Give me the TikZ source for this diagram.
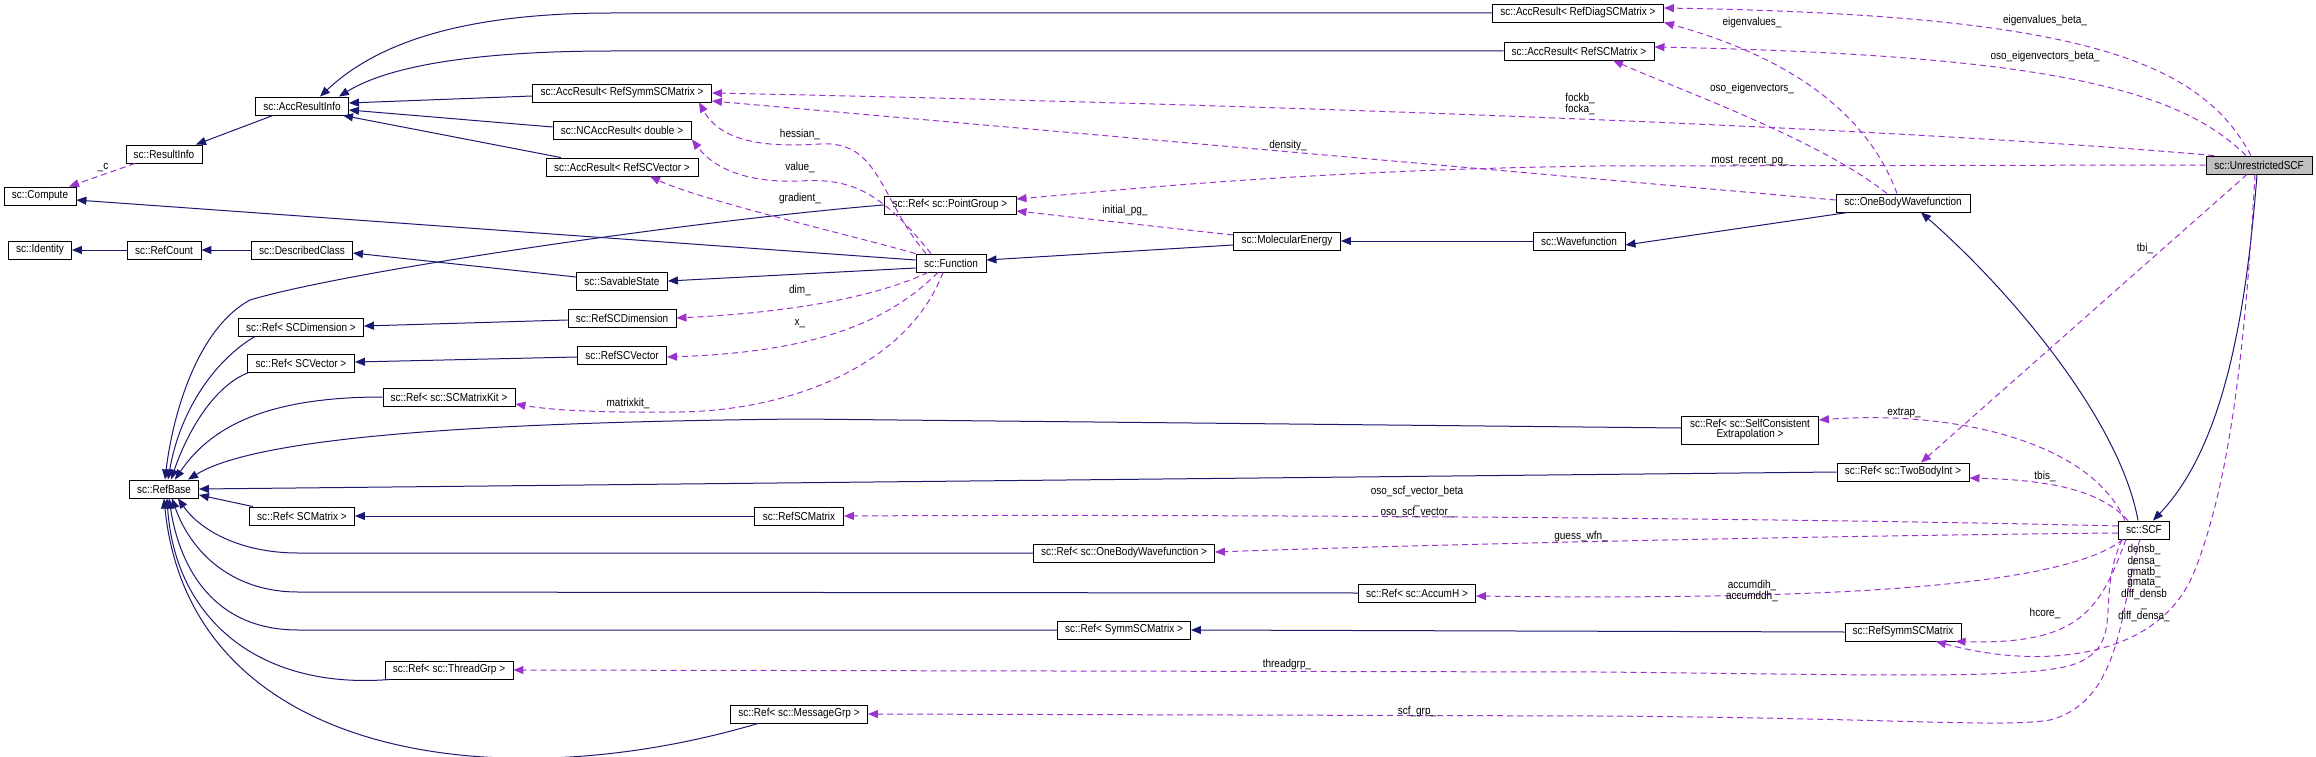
\documentclass[tikz,border=0pt]{standalone}
\usepackage{fontspec}
\setmainfont[FakeStretch=0.87]{Liberation Sans}
\usetikzlibrary{arrows.meta}
\definecolor{inhcol}{RGB}{25,25,112}
\definecolor{usecol}{RGB}{154,50,205}
\definecolor{selfill}{RGB}{191,191,191}
\tikzset{
  cls/.style={draw=black, line width=0.9pt, fill=white, inner sep=0pt, minimum height=18pt, font=\fontsize{11.5}{10}\selectfont, align=center},
  inh/.style={draw=inhcol, line width=1pt, -{Triangle[length=10pt,width=8pt]}},
  use/.style={draw=usecol, line width=1pt, dash pattern=on 6pt off 4pt, -{Triangle[length=10pt,width=8pt]}},
  lbl/.style={font=\fontsize{11.5}{10}\selectfont, align=center, inner sep=0pt, text=black},
}
\begin{document}
\begin{tikzpicture}[x=1pt, y=-1pt]
\useasboundingbox (0,0) rectangle (2316,757);
% nodes
\node[cls, minimum width=72pt] (compute) at (40,196) {sc::Compute};
\node[cls, minimum width=63pt] (identity) at (40,250) {sc::Identity};
\node[cls, minimum width=74pt] (refcount) at (164,250) {sc::RefCount};
\node[cls, minimum width=101pt] (described) at (302,250) {sc::DescribedClass};
\node[cls, minimum width=76pt] (resinfo) at (164,154) {sc::ResultInfo};
\node[cls, minimum width=93pt] (accinfo) at (302,106) {sc::AccResultInfo};
\node[cls, minimum width=179pt] (arsym) at (622,93) {sc::AccResult< RefSymmSCMatrix >};
\node[cls, minimum width=138pt] (ncacc) at (622,130) {sc::NCAccResult< double >};
\node[cls, minimum width=152pt] (arvec) at (622,167) {sc::AccResult< RefSCVector >};
\node[cls, minimum width=91pt] (savable) at (622,281) {sc::SavableState};
\node[cls, minimum width=108pt] (rscdim) at (622,318) {sc::RefSCDimension};
\node[cls, minimum width=89pt] (rscvec) at (622,355) {sc::RefSCVector};
\node[cls, minimum width=125pt] (refdim) at (301,327) {sc::Ref< SCDimension >};
\node[cls, minimum width=107pt] (refvec) at (301,363) {sc::Ref< SCVector >};
\node[cls, minimum width=132pt] (refkit) at (449,397) {sc::Ref< sc::SCMatrixKit >};
\node[cls, minimum width=69pt] (refbase) at (164,489) {sc::RefBase};
\node[cls, minimum width=105pt] (refmat) at (302,516) {sc::Ref< SCMatrix >};
\node[cls, minimum width=89pt] (rscmat) at (799,516) {sc::RefSCMatrix};
\node[cls, minimum width=128pt] (refthr) at (449,670) {sc::Ref< sc::ThreadGrp >};
\node[cls, minimum width=137pt] (refmsg) at (799,714) {sc::Ref< sc::MessageGrp >};
\node[cls, minimum width=171pt] (ardiag) at (1578,13) {sc::AccResult< RefDiagSCMatrix >};
\node[cls, minimum width=150pt] (arscm) at (1579,51) {sc::AccResult< RefSCMatrix >};
\node[cls, minimum width=132pt] (refpg) at (950,205) {sc::Ref< sc::PointGroup >};
\node[cls, minimum width=70pt] (func) at (951,263) {sc::Function};
\node[cls, minimum width=107pt] (molen) at (1287,241) {sc::MolecularEnergy};
\node[cls, minimum width=92pt] (wavef) at (1579,241) {sc::Wavefunction};
\node[cls, minimum width=134pt] (obwf) at (1903,203) {sc::OneBodyWavefunction};
\node[cls, minimum width=106pt, fill=selfill] (uscf) at (2259,165) {sc::UnrestrictedSCF};
\node[cls, minimum width=137pt, minimum height=28pt] (refext) at (1750,430) {sc::Ref< sc::SelfConsistent\\Extrapolation >};
\node[cls, minimum width=132pt] (reftbi) at (1903,472) {sc::Ref< sc::TwoBodyInt >};
\node[cls, minimum width=51pt] (scf) at (2144,530) {sc::SCF};
\node[cls, minimum width=116pt] (rssm) at (1903,632) {sc::RefSymmSCMatrix};
\node[cls, minimum width=181pt] (refobwf) at (1124,553) {sc::Ref< sc::OneBodyWavefunction >};
\node[cls, minimum width=117pt] (refacc) at (1417,593) {sc::Ref< sc::AccumH >};
\node[cls, minimum width=133pt] (refsym) at (1124,630) {sc::Ref< SymmSCMatrix >};

% inheritance edges
\draw[inh] ([xshift=-29pt]accinfo.south) -- ([xshift=32pt]resinfo.north);
\draw[inh] ([yshift=3pt]func.west) -- ([yshift=-4pt]compute.east);
\draw[inh] (refcount.west) -- (identity.east);
\draw[inh] (described.west) -- (refcount.east);
\draw[inh] ([yshift=4pt]savable.west) -- ([yshift=-3pt]described.east);
\draw[inh] ([yshift=-5pt]func.west) -- (savable.east);
\draw[inh] (ardiag.west) -- (612,13) .. controls (470,13) and (380,40) .. ([xshift=18pt]accinfo.north);
\draw[inh] (arscm.west) -- (612,51) .. controls (480,51) and (390,65) .. ([xshift=37pt]accinfo.north);
\draw[inh] ([yshift=-3pt]arsym.west) -- ([yshift=3pt]accinfo.east);
\draw[inh] ([yshift=3pt]ncacc.west) -- ([yshift=-4pt]accinfo.east);
\draw[inh] ([xshift=-61pt]arvec.north) -- ([xshift=41pt]accinfo.south);
\draw[inh] (refpg.west) .. controls (700,220) and (350,270) .. (250,300) .. controls (195,330) and (172,420) .. ([xshift=1pt]refbase.north);
\draw[inh] ([xshift=-46pt]refdim.south) .. controls (215,360) and (180,410) .. ([xshift=4pt]refbase.north);
\draw[inh] ([xshift=-52pt]refvec.south) .. controls (215,385) and (188,430) .. ([xshift=7pt]refbase.north);
\draw[inh] (refkit.west) .. controls (280,397) and (215,420) .. ([xshift=11pt]refbase.north);
\draw[inh] ([yshift=2pt]refext.west) -- (800,419) .. controls (500,422) and (260,435) .. ([xshift=24pt]refbase.north);
\draw[inh] (reftbi.west) -- (refbase.east);
\draw[inh] ([xshift=-49pt]refmat.north) -- ([yshift=-6pt]refbase.east);
\draw[inh] (refobwf.west) -- (298,553) .. controls (240,553) and (200,530) .. ([xshift=14pt]refbase.south);
\draw[inh] (refacc.west) -- (298,592) .. controls (230,592) and (190,550) .. ([xshift=8pt]refbase.south);
\draw[inh] (refsym.west) -- (298,630) .. controls (215,630) and (180,570) .. ([xshift=5pt]refbase.south);
\draw[inh] ([xshift=-59pt]refthr.south) .. controls (260,690) and (175,620) .. ([xshift=3pt]refbase.south);
\draw[inh] ([xshift=-41pt]refmsg.south) .. controls (500,800) and (190,760) .. (refbase.south);
\draw[inh] ([yshift=-2pt]rscdim.west) -- ([yshift=1pt]refdim.east);
\draw[inh] ([yshift=-2pt]rscvec.west) -- ([yshift=1pt]refvec.east);
\draw[inh] (rscmat.west) -- (refmat.east);
\draw[inh] (rssm.west) -- (refsym.east);
\draw[inh] ([yshift=-4pt]molen.west) -- ([yshift=3pt]func.east);
\draw[inh] (wavef.west) -- (molen.east);
\draw[inh] ([xshift=-55pt]obwf.south) -- ([yshift=-4pt]wavef.east);
\draw[inh] ([xshift=-6pt]scf.north) .. controls (2120,420) and (2010,290) .. ([xshift=18pt]obwf.south);
\draw[inh] ([xshift=-2pt]uscf.south) .. controls (2245,330) and (2220,450) .. ([xshift=9pt]scf.north);

% usage edges
\draw[use] ([xshift=-29pt]resinfo.south) -- ([xshift=29pt]compute.north);
\draw[use] ([xshift=-25pt]func.north) .. controls (880,200) and (880,140) .. (820,144) .. controls (760,148) and (720,140) .. ([xshift=77pt]arsym.south);
\draw[use] ([xshift=-20pt]func.north) .. controls (880,190) and (850,178) .. (800,181) .. controls (750,183) and (715,170) .. ([xshift=70pt]ncacc.south);
\draw[use] (func.north west) .. controls (850,235) and (700,200) .. ([xshift=28pt]arvec.south);
\draw[use] ([xshift=-23pt]func.south) .. controls (880,295) and (800,312) .. (rscdim.east);
\draw[use] ([xshift=-13pt]func.south) .. controls (890,320) and (820,352) .. ([yshift=-2pt]rscvec.east);
\draw[use] ([xshift=-8pt]func.south) .. controls (910,360) and (800,410) .. (680,412) .. controls (600,413) and (550,410) .. ([yshift=-7pt]refkit.east);
\draw[use] ([yshift=6pt]molen.west) -- ([yshift=-6pt]refpg.east);
\draw[use] ([yshift=3pt]obwf.west) -- ([yshift=-8pt]arsym.east);
\draw[use] ([xshift=-45pt]uscf.north) .. controls (1900,128) and (1300,105) .. (arsym.east);
\draw[use] ([xshift=-6pt]obwf.north) .. controls (1870,120) and (1800,60) .. (ardiag.south east);
\draw[use] ([xshift=-16pt]obwf.north) .. controls (1820,140) and (1680,90) .. ([xshift=34pt]arscm.south);
\draw[use] ([xshift=-8pt]uscf.north) .. controls (2200,60) and (2080,15) .. ([yshift=5pt]ardiag.east);
\draw[use] ([xshift=-13pt]uscf.north) .. controls (2180,90) and (2050,55) .. ([yshift=4pt]arscm.east);
\draw[use] (uscf.west) -- (1600,166) .. controls (1300,170) and (1100,192) .. ([yshift=6pt]refpg.east);
\draw[use] ([xshift=-12pt]uscf.south) -- ([xshift=18pt]reftbi.north);
\draw[use] ([xshift=-4pt]uscf.south) .. controls (2245,350) and (2230,480) .. (2195,570) .. controls (2160,660) and (2040,670) .. ([xshift=33pt]rssm.south);
\draw[use] ([xshift=-19pt]scf.north) .. controls (2090,440) and (1950,410) .. ([yshift=10pt]refext.east);
\draw[use] ([xshift=-16pt]scf.north) .. controls (2100,490) and (2050,480) .. ([yshift=-6pt]reftbi.east);
\draw[use] ([yshift=4pt]scf.west) .. controls (1800,518) and (1200,514) .. (rscmat.east);
\draw[use] ([yshift=-3pt]scf.west) .. controls (1900,535) and (1500,542) .. ([yshift=1pt]refobwf.east);
\draw[use] ([xshift=-21pt]scf.south) .. controls (2060,590) and (1800,600) .. ([yshift=-3pt]refacc.east);
\draw[use] ([xshift=-18pt]scf.south) .. controls (2100,610) and (2080,645) .. ([xshift=-6pt]rssm.south east);
\draw[use] ([xshift=-22pt]scf.south) .. controls (2095,600) and (2125,640) .. (2080,662) .. controls (2040,680) and (1900,675) .. (1600,672) -- (refthr.east);
\draw[use] ([xshift=-4pt]scf.south) .. controls (2120,600) and (2125,700) .. (2050,720) .. controls (2000,728) and (1900,718) .. (1600,716) -- (refmsg.east);

% labels
\node[lbl] (lc) at (103,168) {\_c};
\node[lbl] (lhess) at (800,134) {hessian\_};
\node[lbl] (lval) at (800,167) {value\_};
\node[lbl] (lgrad) at (800,199) {gradient\_};
\node[lbl] (ldim) at (800,290) {dim\_};
\node[lbl] (lx) at (800,324) {x\_};
\node[lbl] (lkit) at (628,403) {matrixkit\_};
\node[lbl] (lipg) at (1125,211) {initial\_pg\_};
\node[lbl] (lden) at (1288,146) {density\_};
\node[lbl] (lfock) at (1580,104) {fockb\_\\focka\_};
\node[lbl] (leig) at (1752,23) {eigenvalues\_};
\node[lbl] (leigb) at (2045,21) {eigenvalues\_beta\_};
\node[lbl] (levb) at (2045,57) {oso\_eigenvectors\_beta\_};
\node[lbl] (lev) at (1752,89) {oso\_eigenvectors\_};
\node[lbl] (lmrpg) at (1750,161) {most\_recent\_pg\_};
\node[lbl] (ltbi) at (2145,248) {tbi\_};
\node[lbl] (lext) at (1904,413) {extrap\_};
\node[lbl] (ltbis) at (2045,476) {tbis\_};
\node[lbl] (loso) at (1417,502) {oso\_scf\_vector\_beta\\\_\\oso\_scf\_vector\_};
\node[lbl] (lguess) at (1581,537) {guess\_wfn\_};
\node[lbl] (lacc) at (1752,591) {accumdih\_\\accumddh\_};
\node[lbl] (lhcore) at (2045,613) {hcore\_};
\node[lbl] (ldens) at (2144,583) {densb\_\\densa\_\\gmatb\_\\gmata\_\\diff\_densb\\\_\\diff\_densa\_};
\node[lbl] (lthr) at (1287,665) {threadgrp\_};
\node[lbl] (lscf) at (1417,712) {scf\_grp\_};
\end{tikzpicture}
\end{document}
